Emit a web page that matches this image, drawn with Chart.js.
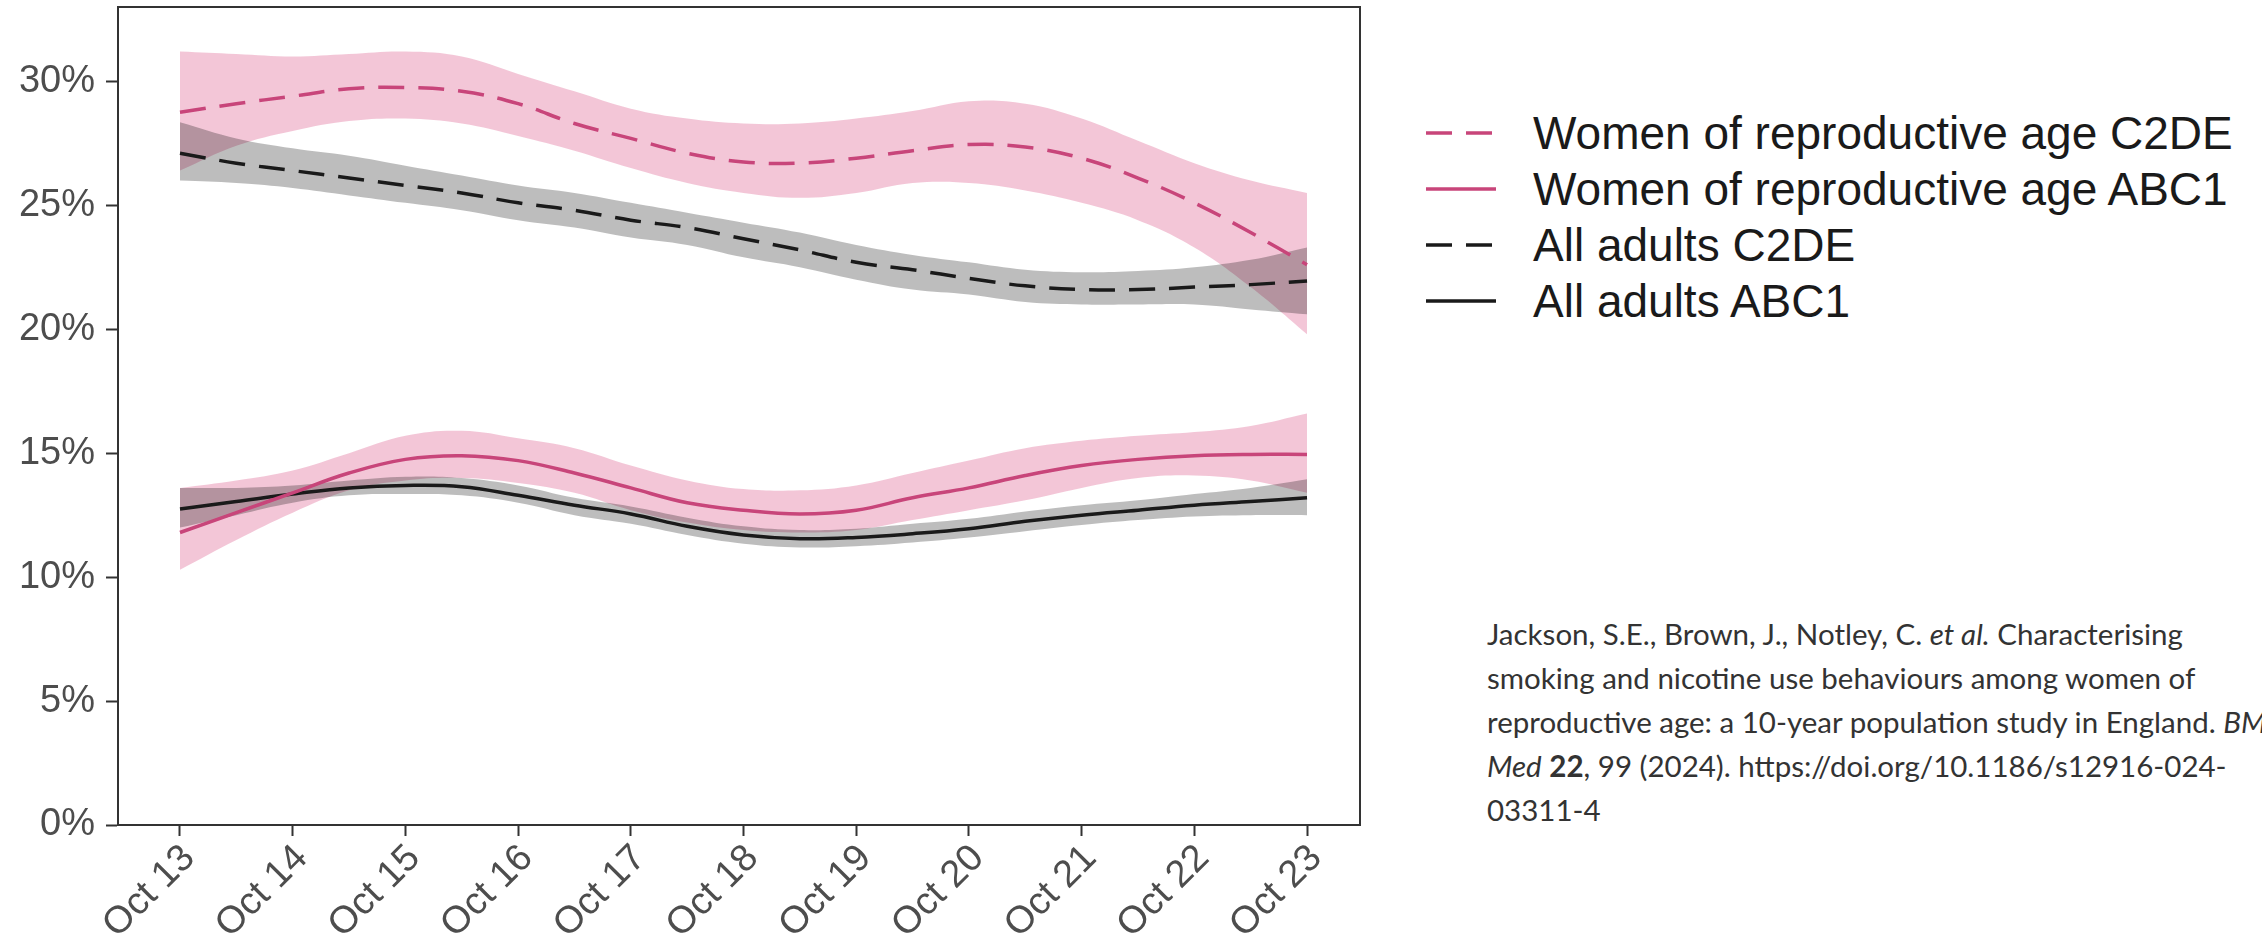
<!DOCTYPE html>
<html>
<head>
<meta charset="utf-8">
<script src="https://cdn.jsdelivr.net/npm/chart.js@4.4.1/dist/chart.umd.min.js"></script>
<style>
    html, body { margin: 0; padding: 0; background: #fff; overflow: hidden; }
    body { width: 2262px; height: 942px; position: relative; }
    #chartBox { position: absolute; left: 0; top: 0; width: 1400px; height: 942px; }
    #legend { position: absolute; left: 1426px; top: 105px; font-family: 'Liberation Sans', Arial, sans-serif; font-size: 46px; color: #1a1a1a; }
    #legend .row { display: flex; align-items: center; height: 56px; white-space: nowrap; }
    #legend svg { margin-right: 37px; flex: none; }
    #cite { position: absolute; left: 1487px; top: 612px; font-family: Lato, 'Open Sans', sans-serif; font-size: 29.5px; line-height: 44px; color: #333; white-space: nowrap; }
</style>
</head>
<body>
<div id="chartBox"><canvas id="chart"></canvas></div>
<div id="legend"></div>
<div id="cite">
    Jackson, S.E., Brown, J., Notley, C. <i>et al.</i> Characterising<br>
    smoking and nicotine use behaviours among women of<br>
    reproductive age: a 10-year population study in England. <i>BMC</i><br>
    <i>Med</i> <b>22</b>, 99 (2024). https://doi.org/10.1186/s12916-024-<br>
    03311-4
</div>
<script>
// years since Oct 2013, read every half year off the smoothed curves
const years = [0, 0.5, 1, 1.5, 2, 2.5, 3, 3.5, 4, 4.5, 5, 5.5, 6, 6.5, 7, 7.5, 8, 8.5, 9, 9.5, 10];
const xLabels = ['Oct 13', 'Oct 14', 'Oct 15', 'Oct 16', 'Oct 17', 'Oct 18', 'Oct 19', 'Oct 20', 'Oct 21', 'Oct 22', 'Oct 23'];
const yTicks = [0, 5, 10, 15, 20, 25, 30];

const seriesNames = ['Women of reproductive age C2DE', 'Women of reproductive age ABC1', 'All adults C2DE', 'All adults ABC1'];

const womenC2DE = [28.75, 29.1, 29.4, 29.7, 29.75, 29.6, 29.1, 28.3, 27.7, 27.1, 26.75, 26.7, 26.9, 27.2, 27.45, 27.35, 26.9, 26.1, 25.1, 23.9, 22.6];
const womenC2DEHi = [31.2, 31.1, 31.0, 31.1, 31.2, 31.0, 30.3, 29.6, 28.9, 28.5, 28.3, 28.3, 28.5, 28.8, 29.2, 29.1, 28.5, 27.6, 26.7, 26.0, 25.5];
const womenC2DELo = [26.4, 27.4, 28.0, 28.4, 28.5, 28.3, 27.8, 27.2, 26.5, 25.9, 25.5, 25.3, 25.5, 25.9, 25.9, 25.6, 25.1, 24.4, 23.3, 21.7, 19.8];

const womenABC1 = [11.8, 12.6, 13.4, 14.2, 14.75, 14.9, 14.7, 14.2, 13.6, 13.0, 12.7, 12.55, 12.7, 13.2, 13.6, 14.1, 14.5, 14.75, 14.9, 14.95, 14.95];
const womenABC1Hi = [13.6, 13.9, 14.3, 15.0, 15.7, 15.9, 15.6, 15.2, 14.5, 13.9, 13.55, 13.5, 13.7, 14.2, 14.7, 15.2, 15.5, 15.7, 15.85, 16.1, 16.6];
const womenABC1Lo = [10.3, 11.5, 12.6, 13.5, 13.9, 14.0, 13.8, 13.4, 12.7, 12.2, 11.9, 11.8, 11.9, 12.3, 12.7, 13.1, 13.6, 14.0, 14.1, 13.9, 13.4];

const adultsC2DE = [27.1, 26.7, 26.4, 26.1, 25.8, 25.5, 25.1, 24.8, 24.4, 24.1, 23.65, 23.2, 22.7, 22.4, 22.05, 21.75, 21.6, 21.6, 21.7, 21.8, 21.95];
const adultsC2DEHi = [28.35, 27.7, 27.3, 27.0, 26.6, 26.2, 25.8, 25.5, 25.1, 24.7, 24.3, 23.9, 23.4, 23.0, 22.7, 22.4, 22.3, 22.35, 22.5, 22.8, 23.3];
const adultsC2DELo = [26.0, 25.9, 25.7, 25.4, 25.1, 24.8, 24.4, 24.1, 23.7, 23.4, 22.9, 22.5, 22.0, 21.6, 21.4, 21.1, 21.0, 21.0, 21.0, 20.8, 20.6];

const adultsABC1 = [12.75, 13.05, 13.35, 13.6, 13.7, 13.65, 13.3, 12.9, 12.55, 12.05, 11.7, 11.55, 11.6, 11.75, 11.95, 12.25, 12.5, 12.7, 12.9, 13.05, 13.2];
const adultsABC1Hi = [13.6, 13.6, 13.7, 13.9, 14.05, 14.0, 13.7, 13.2, 12.85, 12.4, 12.05, 11.9, 11.95, 12.15, 12.35, 12.65, 12.9, 13.1, 13.35, 13.6, 13.95];
const adultsABC1Lo = [12.0, 12.5, 13.0, 13.3, 13.35, 13.3, 13.0, 12.5, 12.15, 11.7, 11.35, 11.2, 11.25, 11.4, 11.6, 11.85, 12.1, 12.3, 12.45, 12.5, 12.5];

const pink = '#c8457a';
const black = '#1a1a1a';
const pinkBand = 'rgba(226,120,160,0.42)';
const greyBand = 'rgba(0,0,0,0.26)';
const dash = [26, 14];

function pts(vals) {
    return years.map((x, i) => ({ x: x, y: vals[i] }));
}

// ribbon: upper edge filled down to the lower edge
function band(hi, lo, color, order) {
    return [
        { data: pts(hi), fill: '+1', backgroundColor: color, borderWidth: 0, pointRadius: 0, tension: 0.4, order: order },
        { data: pts(lo), fill: false, borderWidth: 0, pointRadius: 0, tension: 0.4, order: order },
    ];
}

function line(vals, color, dashed) {
    return { data: pts(vals), borderColor: color, borderWidth: 3.5, borderDash: dashed ? dash : [], fill: false, pointRadius: 0, tension: 0.4, order: 1 };
}

// draw the top and right sides of the panel frame
const frame = {
    id: 'frame',
    afterDraw(chart) {
        const a = chart.chartArea;
        const ctx = chart.ctx;
        ctx.save();
        ctx.strokeStyle = '#333';
        ctx.lineWidth = 2;
        ctx.beginPath();
        ctx.moveTo(a.left, a.top);
        ctx.lineTo(a.right, a.top);
        ctx.lineTo(a.right, a.bottom);
        ctx.stroke();
        ctx.restore();
    }
};

const fontFamily = "'Liberation Sans', Arial, sans-serif";

const config = {
    type: 'line',
    data: {
        datasets: [
            ...band(womenC2DEHi, womenC2DELo, pinkBand, 20),
            ...band(womenABC1Hi, womenABC1Lo, pinkBand, 20),
            ...band(adultsC2DEHi, adultsC2DELo, greyBand, 10),
            ...band(adultsABC1Hi, adultsABC1Lo, greyBand, 10),
            line(womenC2DE, pink, true),
            line(womenABC1, pink, false),
            line(adultsC2DE, black, true),
            line(adultsABC1, black, false),
        ]
    },
    options: {
        responsive: true,
        maintainAspectRatio: false,
        animation: false,
        layout: { padding: { top: 7, right: 40, left: 0, bottom: 0 } },
        scales: {
            x: {
                type: 'linear',
                min: -0.55,
                max: 10.47,
                afterBuildTicks: s => { s.ticks = xLabels.map((_, i) => ({ value: i })); },
                afterFit: s => { s.height = 117; s.paddingLeft = 0; s.paddingRight = 0; },
                ticks: {
                    callback: v => xLabels[v],
                    minRotation: 45,
                    maxRotation: 45,
                    autoSkip: false,
                    color: '#4d4d4d',
                    font: { family: fontFamily, size: 38 },
                    padding: 0,
                    labelOffset: 9,
                },
                grid: { drawOnChartArea: false, tickLength: 11, tickColor: '#333', tickWidth: 2 },
                border: { color: '#333', width: 2 },
            },
            y: {
                min: 0,
                max: 33,
                afterBuildTicks: s => { s.ticks = yTicks.map(v => ({ value: v })); },
                afterFit: s => { s.width = 118; s.paddingTop = 0; s.paddingBottom = 0; },
                ticks: {
                    callback: v => v + '%',
                    color: '#4d4d4d',
                    font: { family: fontFamily, size: 38 },
                    padding: 11,
                },
                grid: { drawOnChartArea: false, tickLength: 12, tickColor: '#333', tickWidth: 2 },
                border: { color: '#333', width: 2 },
            },
        },
        plugins: {
            legend: { display: false },
            tooltip: { enabled: false },
        },
    },
    plugins: [frame],
};

const chart = new Chart(document.getElementById('chart').getContext('2d'), config);

// html legend for the four lines
const legendBox = document.getElementById('legend');
const legendStyles = [[pink, true], [pink, false], [black, true], [black, false]];
seriesNames.forEach((name, i) => {
    const [col, dashed] = legendStyles[i];
    const row = document.createElement('div');
    row.className = 'row';
    row.innerHTML = `<svg width="70" height="10"><line x1="0" y1="5" x2="70" y2="5" stroke="${col}" stroke-width="3.5" ${dashed ? 'stroke-dasharray="26 14"' : ''}/></svg><span>${name}</span>`;
    legendBox.appendChild(row);
});
</script>
</body>
</html>
